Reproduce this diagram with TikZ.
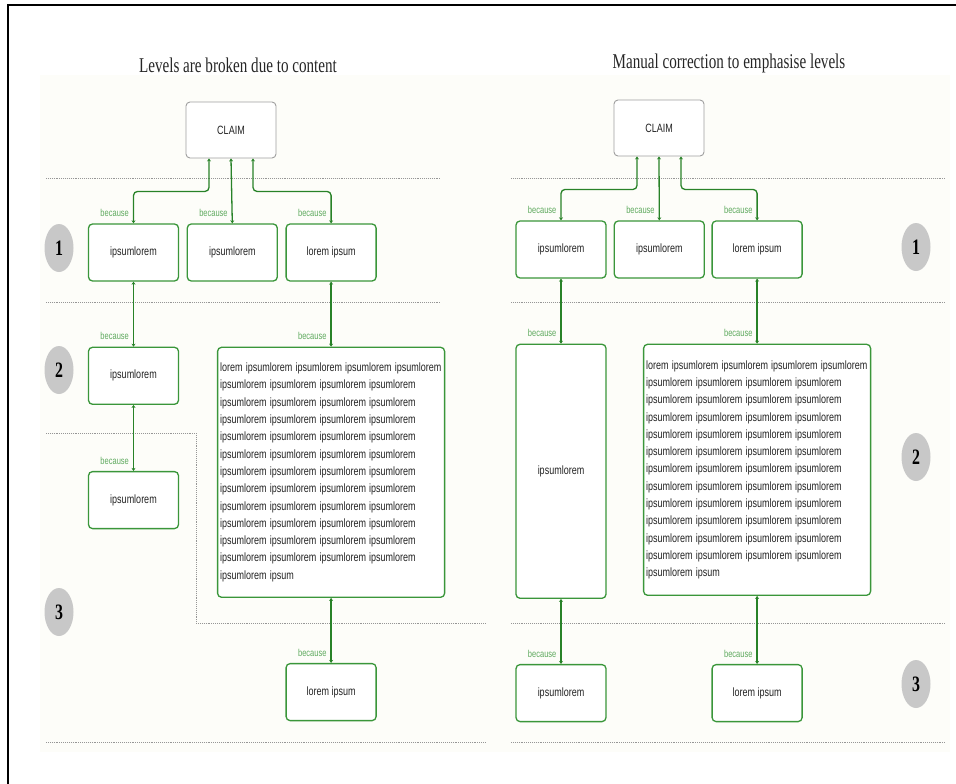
\documentclass[tikz,border=0pt]{standalone}
\usepackage{fontspec}
\setmainfont{Liberation Serif}
\newfontfamily\boxfont[FakeStretch=0.75]{Liberation Sans}
\newfontfamily\titlefont[FakeStretch=0.72]{Liberation Serif}
\usepackage{tikz}
\usetikzlibrary{shapes,arrows,arrows.meta,calc}
\usetikzlibrary{positioning}
\hyphenpenalty=10000
\definecolor{clrBorders}{rgb}{0,0,0}
\definecolor{clrGreen}{RGB}{58,150,58}
\definecolor{clrLink}{RGB}{40,130,40}
\definecolor{clrBecause}{RGB}{95,170,95}
\definecolor{clrText}{RGB}{35,35,35}
\definecolor{clrLevel}{RGB}{200,200,200}
\definecolor{clrPaper}{RGB}{253,253,249}
\definecolor{clrRule}{RGB}{150,150,150}
\tikzstyle{box_style0}=[draw, rounded corners=4pt, fill=white,
anchor=center,text centered,text=clrText, font=\boxfont\fontsize{12}{14}\selectfont]
\tikzstyle{claim}=[box_style0, draw=gray!75, line width=0.9pt, minimum width=90pt, minimum height=56pt]
\tikzstyle{premise}=[box_style0, draw=clrGreen, line width=1.3pt, minimum width=90pt, minimum height=57pt]
\tikzstyle{longtext}=[premise, align=left, text width=222pt, inner xsep=2.5pt, font=\boxfont\fontsize{12}{17.3}\selectfont]
\tikzstyle{because}=[anchor=south east, inner sep=2pt, xshift=-2pt, yshift=4pt, text=clrBecause, font=\boxfont\fontsize{10}{12}\selectfont]
\tikzstyle{myarrow}=[{Stealth[length=3pt,width=4pt]}-{Stealth[length=3pt,width=4pt]}, draw=clrLink, line width=1.3pt, rounded corners=4pt]
\tikzstyle{levelmark}=[ellipse, fill=clrLevel, minimum width=29pt, minimum height=48pt, inner sep=0pt, font=\titlefont\bfseries\fontsize{22}{22}\selectfont]
\tikzstyle{levelrule}=[densely dotted, draw=clrRule, line width=0.9pt]
\tikzstyle{paneltitle}=[font=\titlefont\fontsize{21}{23}\selectfont, text=black!85]
\newcommand{\loremrow}{ipsumlorem ipsumlorem ipsumlorem ipsumlorem\\}
\newcommand{\loremblock}{\spaceskip=3.2pt plus 1pt\relax
lorem ipsumlorem ipsumlorem ipsumlorem ipsumlorem\\
\loremrow\loremrow\loremrow\loremrow\loremrow\loremrow
\loremrow\loremrow\loremrow\loremrow\loremrow
ipsumlorem ipsum}

\begin{document}
\begin{tikzpicture}[x=1pt,y=1pt]
	\useasboundingbox (0,0) rectangle (956,-784);
	\fill[clrPaper] (40,-75) rectangle (950,-752);
	\draw[clrBorders, line width=2pt] (8,-784) -- (8,-5) -- (956,-5);

	% levels, left side
	\draw[levelrule] (46,-178) -- (441,-178);
	\draw[levelrule] (46,-302) -- (441,-302);
	\draw[levelrule] (46,-433) -- (196,-433) -- (196,-623) -- (486,-623); % broken level
	\draw[levelrule] (46,-742) -- (486,-742);

	% levels, right side
	\draw[levelrule] (511,-178) -- (946,-178);
	\draw[levelrule] (511,-302) -- (946,-302);
	\draw[levelrule] (511,-623) -- (946,-623);
	\draw[levelrule] (511,-742) -- (946,-742);

	\begin{scope}
		\node[paneltitle] (titleL) at (238,-65) {Levels are broken due to content};

		\node[claim] (claimL) at (231,-130) {CLAIM};

		\node[premise] (A) at (133.5,-252.5) {ipsumlorem};
		\draw[myarrow] ([xshift=-22pt]claimL.south) -- ++(0,-33) -| (A.north) node[because] (becA) {because};

		\node[premise, right=7.5pt of A] (B) {ipsumlorem};
		\draw[myarrow] (claimL.south) -- (B.north) node[because] (becB) {because};

		\node[premise, right=7.5pt of B] (C) {lorem ipsum};
		\draw[myarrow] ([xshift=22pt]claimL.south) -- ++(0,-33) -| (C.north) node[because] (becC) {because};

		\node[premise, below=65pt of A] (D) {ipsumlorem};
		\draw[myarrow] (A.south) -- (D.north) node[because] (becD) {because};

		\node[premise, below=66pt of D] (E) {ipsumlorem};
		\draw[myarrow] (D.south) -- (E.north) node[because] (becE) {because};

		\node[longtext, minimum height=250pt, below=65pt of C] (F) {\loremblock};
		\draw[myarrow] (C.south) -- (F.north) node[because] (becF) {because};

		\node[premise, below=65pt of F] (G) {lorem ipsum};
		\draw[myarrow] (F.south) -- (G.north) node[because] (becG) {because};

		\node[levelmark] (lvlL1) at (59,-248) {1};
		\node[levelmark] (lvlL2) at (59,-370) {2};
		\node[levelmark] (lvlL3) at (59,-612) {3};
	\end{scope}

	\begin{scope}
		\node[paneltitle] (titleR) at (729,-63) {Manual correction to emphasise levels};

		\node[claim] (claimR) at (659,-128) {CLAIM};

		\node[premise] (RA) at (561,-249.5) {ipsumlorem};
		\draw[myarrow] ([xshift=-22pt]claimR.south) -- ++(0,-33) -| (RA.north) node[because] (becRA) {because};

		\node[premise, right=7pt of RA] (RB) {ipsumlorem};
		\draw[myarrow] (claimR.south) -- (RB.north) node[because] (becRB) {because};

		\node[premise, right=6.5pt of RB] (RC) {lorem ipsum};
		\draw[myarrow] ([xshift=22pt]claimR.south) -- ++(0,-33) -| (RC.north) node[because] (becRC) {because};

		\node[premise, minimum height=254pt, below=65pt of RA] (RD) {ipsumlorem}; % stretched to the level
		\draw[myarrow] (RA.south) -- (RD.north) node[because] (becRD) {because};

		\node[longtext, minimum height=251pt, below=65pt of RC] (RF) {\loremblock};
		\draw[myarrow] (RC.south) -- (RF.north) node[because] (becRF) {because};

		\node[premise, below=65pt of RD] (RE) {ipsumlorem};
		\draw[myarrow] (RD.south) -- (RE.north) node[because] (becRE) {because};

		\node[premise, below=68pt of RF] (RG) {lorem ipsum};
		\draw[myarrow] (RF.south) -- (RG.north) node[because] (becRG) {because};

		\node[levelmark] (lvlR1) at (916,-247) {1};
		\node[levelmark] (lvlR2) at (916,-457) {2};
		\node[levelmark] (lvlR3) at (916,-684) {3};
	\end{scope}

\end{tikzpicture}
\end{document}
